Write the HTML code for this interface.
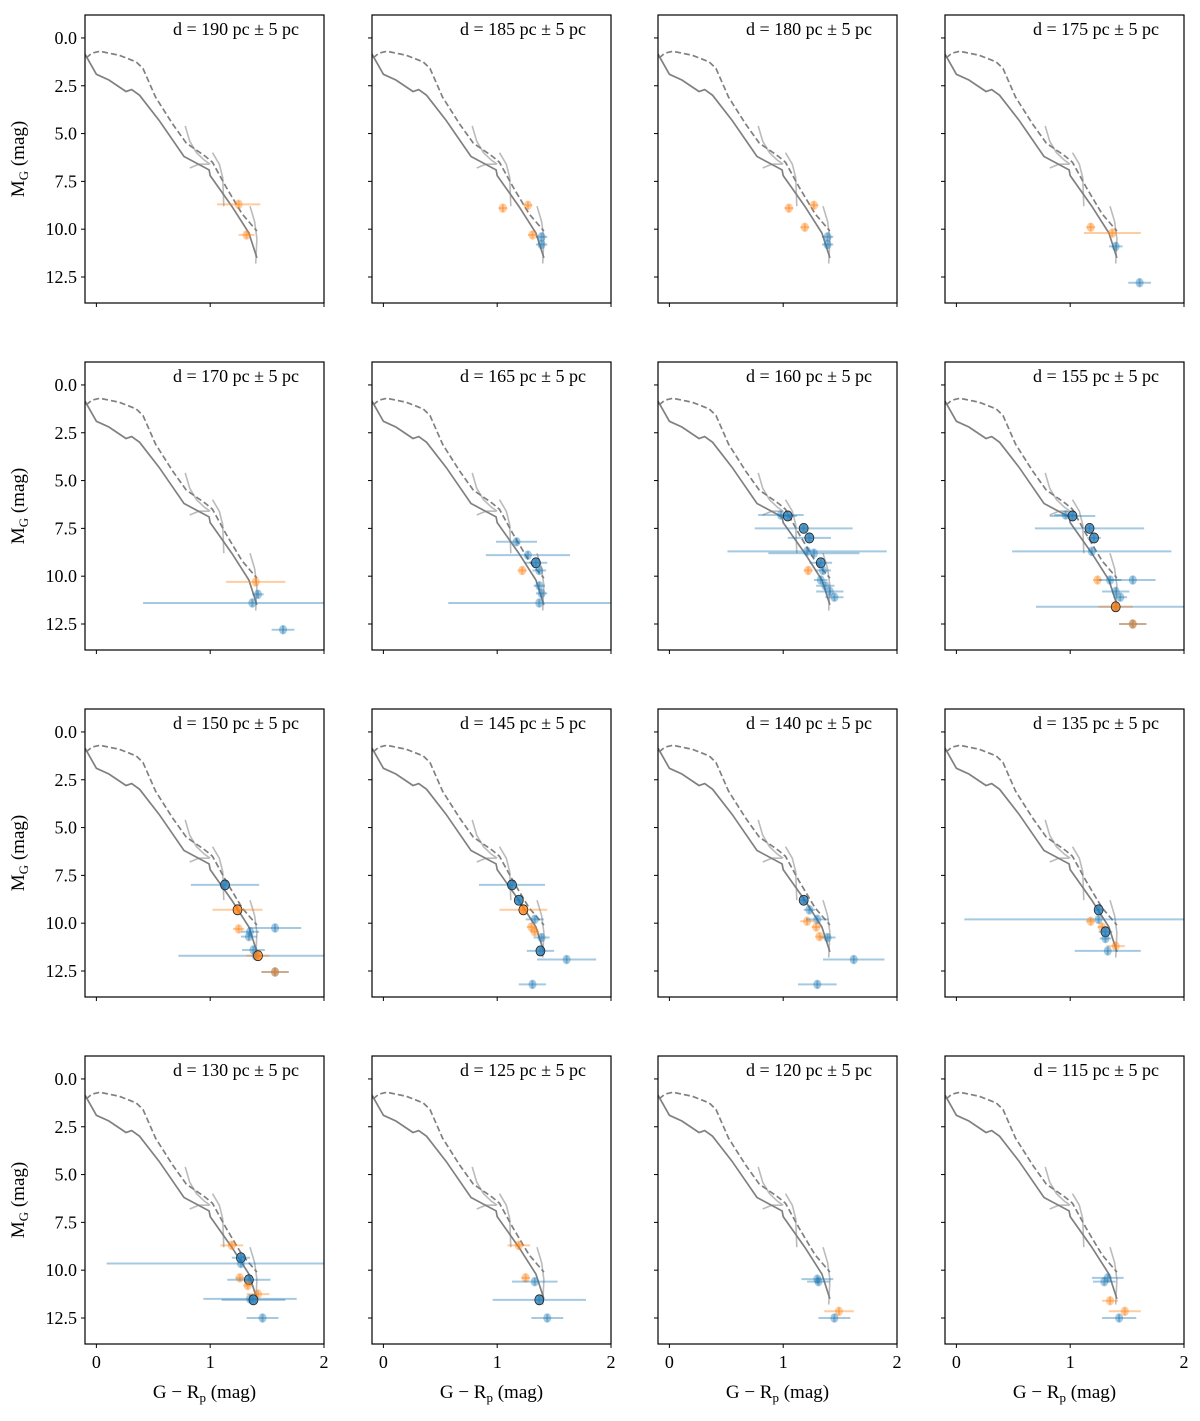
<!DOCTYPE html>
<html><head><meta charset="utf-8">
<style>
body{margin:0;background:#fff;}
svg text{font-family:"Liberation Serif",serif;fill:#000;}
</style></head>
<body>
<svg id="fig" width="1200" height="1416" xmlns="http://www.w3.org/2000/svg"></svg>
<script>
const distances = [190,185,180,175,170,165,160,155,150,145,140,135,130,125,120,115];
const xTicks = [0,1,2];
const xTickLabels = ['0','1','2'];
const yTicks = [0,2.5,5,7.5,10,12.5];
const yTickLabels = ['0.0','2.5','5.0','7.5','10.0','12.5'];
const isoSolid = [[-0.1,0.85],[-0.09,0.95],[0,1.9],[0.11,2.2],[0.26,2.8],[0.31,2.7],[0.38,3.0],[0.55,4.3],[0.77,6.2],[0.99,6.9],[1.0,7.2],[1.19,8.8],[1.34,10.2],[1.41,11.5]];
const isoDashed = [[-0.09,1.05],[-0.04,0.8],[0.03,0.7],[0.2,0.9],[0.35,1.25],[0.41,1.6],[0.52,3.1],[0.67,4.5],[0.79,5.5],[0.96,6.2],[1.02,6.5],[1.14,7.8],[1.28,9.2],[1.41,10.1]];
const isoLight1 = [[0.78,4.6],[0.82,5.4],[0.88,6.0],[0.95,6.4],[1.0,6.6]];
const isoLight2 = [[0.82,6.8],[0.9,6.6],[0.99,6.6]];
const isoLight3 = [[1.02,6.0],[1.08,6.6],[1.11,7.3],[1.12,8.8]];
const isoLight4 = [[1.35,8.8],[1.39,9.6],[1.41,10.5],[1.40,11.8]];
const pts190=[[1.25,8.7,0.19,'o'],[1.32,10.3,0.07,'o']];
const pts185=[[1.05,8.9,0.04,'o'],[1.27,8.75,0.04,'o'],[1.31,10.3,0.04,'o'],[1.39,10.4,0.05,'b'],[1.39,10.8,0.05,'b']];
const pts180=[[1.05,8.9,0.04,'o'],[1.27,8.75,0.04,'o'],[1.19,9.9,0.04,'o'],[1.39,10.4,0.05,'b'],[1.39,10.8,0.05,'b']];
const pts175=[[1.18,9.9,0.04,'o'],[1.37,10.2,0.25,'o'],[1.40,10.9,0.06,'b'],[1.61,12.8,0.1,'b']];
const pts170=[[1.40,10.3,0.26,'o'],[1.42,10.95,0.05,'b'],[1.37,11.4,0.96,'b'],[1.64,12.8,0.1,'b']];
const pts165=[[1.17,8.2,0.18,'b'],[1.27,8.9,0.37,'b'],[1.34,9.3,0.1,'B'],[1.22,9.7,0.04,'o'],[1.37,9.7,0.06,'b'],[1.37,10.5,0.05,'b'],[1.39,10.9,0.05,'b'],[1.37,11.4,0.8,'b']];
const pts160=[[0.98,6.8,0.2,'b'],[1.04,6.85,0.08,'B'],[1.18,7.5,0.43,'B'],[1.23,8.0,0.19,'B'],[1.21,8.7,0.7,'b'],[1.27,8.8,0.4,'b'],[1.33,9.3,0.1,'B'],[1.22,9.7,0.04,'o'],[1.35,9.7,0.07,'b'],[1.33,10.2,0.06,'b'],[1.37,10.5,0.08,'b'],[1.41,10.8,0.12,'b'],[1.45,11.1,0.08,'b']];
const pts155=[[0.96,6.8,0.1,'b'],[1.02,6.85,0.2,'B'],[1.17,7.5,0.48,'B'],[1.21,8.0,0.06,'B'],[1.19,8.7,0.7,'b'],[1.24,10.2,0.04,'o'],[1.35,10.2,0.1,'b'],[1.55,10.2,0.2,'b'],[1.40,10.8,0.12,'b'],[1.44,11.1,0.06,'b'],[1.40,11.6,0.7,'b'],[1.40,11.6,0.15,'O'],[1.55,12.5,0.12,'b'],[1.55,12.5,0.12,'o']];
const pts150=[[1.13,8.0,0.3,'B'],[1.24,9.3,0.22,'O'],[1.25,10.3,0.05,'o'],[1.35,10.45,0.08,'b'],[1.57,10.25,0.23,'b'],[1.34,10.7,0.07,'b'],[1.38,11.4,0.1,'b'],[1.4,11.7,0.68,'b'],[1.42,11.7,0.1,'O'],[1.57,12.55,0.12,'b'],[1.57,12.55,0.12,'o']];
const pts145=[[1.13,8.0,0.29,'B'],[1.19,8.8,0.04,'B'],[1.23,9.3,0.21,'O'],[1.33,9.8,0.08,'b'],[1.30,10.2,0.04,'o'],[1.33,10.45,0.04,'o'],[1.39,10.75,0.07,'b'],[1.38,11.45,0.12,'B'],[1.61,11.9,0.26,'b'],[1.31,13.2,0.12,'b']];
const pts140=[[1.18,8.8,0.04,'B'],[1.23,9.3,0.05,'b'],[1.21,9.9,0.06,'o'],[1.30,9.8,0.1,'b'],[1.29,10.2,0.04,'o'],[1.39,10.75,0.07,'b'],[1.32,10.7,0.04,'o'],[1.62,11.9,0.27,'b'],[1.30,13.2,0.17,'b']];
const pts135=[[1.25,9.3,0.04,'B'],[1.25,9.8,1.18,'b'],[1.18,9.9,0.04,'o'],[1.28,10.2,0.04,'o'],[1.31,10.45,0.06,'B'],[1.31,10.8,0.05,'b'],[1.40,11.2,0.08,'o'],[1.33,11.45,0.29,'b']];
const pts130=[[1.19,8.7,0.1,'o'],[1.27,9.35,0.08,'B'],[1.27,9.65,1.18,'b'],[1.26,10.4,0.04,'o'],[1.34,10.5,0.19,'B'],[1.33,10.8,0.04,'o'],[1.42,11.25,0.1,'o'],[1.35,11.5,0.41,'b'],[1.38,11.55,0.28,'B'],[1.46,12.5,0.14,'b']];
const pts125=[[1.19,8.7,0.1,'o'],[1.25,10.4,0.04,'o'],[1.33,10.6,0.2,'b'],[1.37,11.55,0.41,'B'],[1.44,12.5,0.14,'b']];
const pts120=[[1.30,10.47,0.14,'b'],[1.31,10.6,0.1,'b'],[1.49,12.15,0.13,'o'],[1.45,12.5,0.14,'b']];
const pts115=[[1.33,10.4,0.14,'b'],[1.30,10.6,0.1,'b'],[1.35,11.6,0.07,'o'],[1.48,12.15,0.14,'o'],[1.43,12.5,0.15,'b']];
const allPts=[pts190,pts185,pts180,pts175,pts170,pts165,pts160,pts155,pts150,pts145,pts140,pts135,pts130,pts125,pts120,pts115];

const NS='http://www.w3.org/2000/svg';
const svg=document.getElementById('fig');
const lefts=[85,372,658,945], tops=[15,362,709,1056], W=239, H=288;
const XMIN=-0.1,XMAX=2.0,YMIN=-1.2,YMAX=13.86;
function mk(tag,attrs,parent){const e=document.createElementNS(NS,tag);for(const k in attrs)e.setAttribute(k,attrs[k]);(parent||svg).appendChild(e);return e;}
for(let i=0;i<16;i++){
  const r=Math.floor(i/4),c=i%4,L=lefts[c],T=tops[r];
  const sx=v=>L+(v-XMIN)/(XMAX-XMIN)*W;
  const sy=v=>T+(v-YMIN)/(YMAX-YMIN)*H;
  const g=mk('g',{});
  
  
  const cp=mk('clipPath',{id:'cp'+i},g);mk('rect',{x:L,y:T,width:W,height:H},cp);
  const plot=mk('g',{'clip-path':'url(#cp'+i+')'},g);
  const path=a=>a.map((p,j)=>(j?'L':'M')+sx(p[0]).toFixed(1)+' '+sy(p[1]).toFixed(1)).join(' ');
  [isoLight1,isoLight2,isoLight3,isoLight4].forEach((a,k)=>{const e=mk('path',{d:path(a),fill:'none',stroke:'#bbb','stroke-width':1.6},plot);
    
    });
  let e=mk('path',{d:path(isoDashed),fill:'none',stroke:'#808080','stroke-width':1.7,'stroke-dasharray':'6,3'},plot);
  
  
  e=mk('path',{d:path(isoSolid),fill:'none',stroke:'#808080','stroke-width':1.7},plot);
  
  
  allPts[i].forEach(p=>{
    const col=(p[3]==='b'||p[3]==='B')?'#1f77b4':'#ff7f0e';
    const hi=(p[3]==='B'||p[3]==='O');
    const pg=mk('g',{},plot);
    
    
    mk('line',{x1:sx(p[0]-p[2]),x2:sx(p[0]+p[2]),y1:sy(p[1]),y2:sy(p[1]),stroke:col,'stroke-width':2,'stroke-opacity':0.4},pg);
    mk('line',{x1:sx(p[0]),x2:sx(p[0]),y1:sy(p[1]-0.2),y2:sy(p[1]+0.2),stroke:col,'stroke-width':2,'stroke-opacity':0.4},pg);
    mk('ellipse',{cx:sx(p[0]),cy:sy(p[1]),rx:hi?4.5:4,ry:hi?5:4.8,fill:col,'fill-opacity':hi?0.75:0.4,stroke:hi?'#222':'none','stroke-width':0.8},pg);
  });
  const fr=mk('rect',{x:L,y:T,width:W,height:H,fill:'none',stroke:'#000','stroke-width':1.2},g);
  
  
  yTicks.forEach((v,k)=>{
    mk('line',{x1:L-4,x2:L,y1:sy(v),y2:sy(v),stroke:'#000','stroke-width':1},g);
    if(c===0){const t=mk('text',{x:L-8,y:sy(v)+6,'text-anchor':'end','font-size':18},g);t.textContent=yTickLabels[k];
      
      }
  });
  xTicks.forEach((v,k)=>{
    mk('line',{x1:sx(v),x2:sx(v),y1:T+H,y2:T+H+4,stroke:'#000','stroke-width':1},g);
    if(r===3){const t=mk('text',{x:sx(v),y:T+H+24,'text-anchor':'middle','font-size':18},g);t.textContent=xTickLabels[k];
      
      }
  });
  const tt=mk('text',{x:L+W-25,y:T+20,'text-anchor':'end','font-size':18},g);
  tt.textContent='d = '+distances[i]+' pc \u00b1 5 pc';
  
  
  if(c===0){
    const yl=mk('text',{transform:'translate(24,'+(T+H/2)+') rotate(-90)','text-anchor':'middle','font-size':19},g);
    yl.innerHTML='M<tspan font-size="13" dy="4">G</tspan><tspan dy="-4"> (mag)</tspan>';
    
    
  }
  if(r===3){
    const xl=mk('text',{x:L+W/2,y:1398,'text-anchor':'middle','font-size':19},g);
    xl.innerHTML='G \u2212 R<tspan font-size="13" dy="4">p</tspan><tspan dy="-4"> (mag)</tspan>';
    
    
  }
}
</script>
</body></html>
